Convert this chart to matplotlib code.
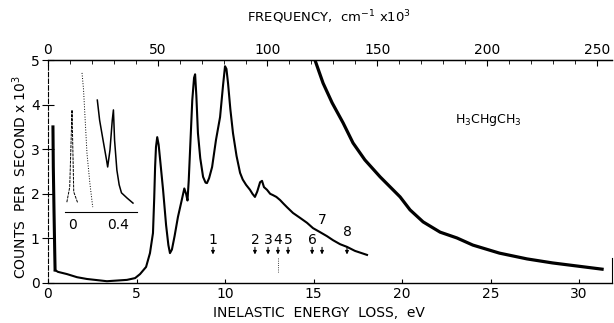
import numpy as np
import matplotlib
matplotlib.use("Agg")
import matplotlib.pyplot as plt

# main spectrum: energy loss (eV) vs counts per second (x10^3)
elastic_ev = [0.28, 0.30, 0.34, 0.38, 0.40]
elastic_counts = [3.50, 2.60, 1.60, 0.70, 0.29]

main_ev = [0.40, 0.56, 1.07, 1.64, 2.20, 3.33, 4.46, 4.92, 5.20, 5.54, 5.76, 5.93,
           6.00, 6.05, 6.10, 6.17, 6.25, 6.35, 6.50, 6.67, 6.80, 6.89, 7.00, 7.15,
           7.34, 7.55, 7.70, 7.80, 7.88, 7.95, 8.05, 8.15, 8.25, 8.31, 8.38, 8.47,
           8.60, 8.76, 8.90, 8.98, 9.10, 9.27, 9.49, 9.72, 9.89, 10.00, 10.08, 10.17,
           10.30, 10.45, 10.65, 10.85, 11.00, 11.19, 11.41, 11.55, 11.69, 11.82, 11.98,
           12.09, 12.20, 12.37, 12.55, 12.71, 12.90, 13.11, 13.30, 13.50, 13.84, 14.24,
           14.63, 14.97, 15.37, 15.76, 16.10, 16.50, 16.89, 17.34, 18.02]
main_counts = [0.29, 0.25, 0.20, 0.13, 0.09, 0.04, 0.07, 0.11, 0.20, 0.36, 0.67, 1.12,
               1.90, 2.60, 3.05, 3.27, 3.10, 2.70, 2.09, 1.30, 0.85, 0.67, 0.75, 1.05,
               1.48, 1.85, 2.12, 2.00, 1.85, 2.30, 3.20, 4.10, 4.60, 4.68, 4.20, 3.36,
               2.80, 2.38, 2.25, 2.24, 2.35, 2.60, 3.21, 3.72, 4.44, 4.86, 4.80, 4.48,
               3.90, 3.36, 2.85, 2.47, 2.32, 2.20, 2.09, 2.00, 1.93, 2.05, 2.26,
               2.29, 2.15, 2.09, 2.00, 1.97, 1.93, 1.86, 1.78, 1.70, 1.57, 1.46,
               1.35, 1.23, 1.14, 1.05, 0.96, 0.87, 0.81, 0.72, 0.63]

# high energy tail on expanded scale
tail_ev = [15.08, 15.30, 15.54, 16.05, 16.67, 17.23, 17.90, 18.76, 19.89, 20.45,
           21.19, 22.15, 23.10, 24.00, 25.50, 27.06, 28.50, 29.90, 31.30]
tail_counts = [5.00, 4.75, 4.48, 4.04, 3.59, 3.14, 2.76, 2.38, 1.93, 1.64,
               1.37, 1.14, 1.01, 0.85, 0.67, 0.54, 0.45, 0.38, 0.31]

# inset: vibrational region
inset_peak_ev = [-0.045, -0.02, 0.0, 0.015, 0.05]
inset_peak_counts = [0.22, 0.56, 2.29, 0.45, 0.20]
inset_dot_ev = [0.087, 0.10, 0.13, 0.155, 0.18]
inset_dot_counts = [3.12, 2.75, 1.32, 0.65, 0.11]
inset_ev = [0.22, 0.24, 0.27, 0.30, 0.31, 0.33, 0.35, 0.36, 0.37, 0.39, 0.41,
            0.43, 0.48, 0.53]
inset_counts = [2.51, 2.06, 1.61, 1.17, 1.01, 1.39, 2.06, 2.29, 1.61, 0.94, 0.61,
                0.43, 0.31, 0.20]

# assigned transitions
marker_labels = ["1", "2", "3", "4", "5", "6", "7", "8"]
marker_ev = [9.32, 11.69, 12.43, 12.99, 13.56, 14.92, 15.48, 16.89]

EV_TO_WN = 8.0655  # 10^3 cm^-1 per eV

W, H = 614, 323
fig = plt.figure(figsize=(W / 100, H / 100), dpi=100)
ax = fig.add_axes([48 / W, 1 - 283 / H, (612 - 48) / W, (283 - 60) / H])

ax.plot(elastic_ev, elastic_counts, color="black", lw=2.2)
ax.plot(main_ev, main_counts, color="black", lw=1.5)
ax.plot(tail_ev, tail_counts, color="black", lw=2.3)
ax.plot([12.99, 12.99], [0.56, 0.25], color="black", lw=0.6, ls=":")

for lab, x in zip(marker_labels, marker_ev):
    ty = 0.96
    if lab == "7":
        ty = 1.41
    elif lab == "8":
        ty = 1.14
    ax.text(x, ty, lab, ha="center", va="center", fontsize=10)
    ax.annotate("", xy=(x, 0.64), xytext=(x, 0.80),
                arrowprops=dict(arrowstyle="-|>", lw=0.8, color="black",
                                mutation_scale=5, shrinkA=0, shrinkB=0))

ax.text(24.9, 3.65, "H$_3$CHgCH$_3$", ha="center", va="center", fontsize=9)

ax.set_xlim(0, 31.86)
ax.set_ylim(0, 5)
ax.set_xticks([0, 5, 10, 15, 20, 25, 30])
ax.set_yticks([0, 1, 2, 3, 4, 5])
ax.tick_params(axis="x", direction="in", length=3, labelsize=10, pad=3)
ax.tick_params(axis="y", direction="inout", length=8, labelsize=10, pad=2)
ax.spines["left"].set_linestyle((0, (4, 2)))
ax.spines["left"].set_linewidth(0.8)
ax.spines["right"].set_bounds(0, 0.55)
for s in ["top", "bottom"]:
    ax.spines[s].set_linewidth(1.0)

top = ax.secondary_xaxis("top", functions=(lambda e: e * EV_TO_WN,
                                           lambda w: w / EV_TO_WN))
top.set_xticks([0, 50, 100, 150, 200, 250])
top.set_xticks(np.arange(0, 251, 10), minor=True)
top.tick_params(which="major", direction="in", length=4, labelsize=10, pad=2)
top.tick_params(which="minor", direction="in", length=3)

fig.text(329 / W, 1 - 17 / H, "FREQUENCY,  cm$^{-1}$ x10$^3$", ha="center",
         va="center", fontsize=9.5)
fig.text(319 / W, 1 - 313 / H, "INELASTIC  ENERGY  LOSS,  eV", ha="center",
         va="center", fontsize=10)
fig.text(20 / W, 1 - 177 / H, "COUNTS  PER  SECOND x 10$^3$", ha="center",
         va="center", rotation=90, fontsize=10)

# inset
ins = fig.add_axes([65 / W, 1 - 212 / H, 72 / W, 152 / H])
ins.patch.set_alpha(0)
ins.plot(inset_peak_ev, inset_peak_counts, color="black", lw=0.7, ls=(0, (3, 1)))
ins.plot(inset_dot_ev, inset_dot_counts, color="black", lw=0.7, ls=":")
ins.plot(inset_ev, inset_counts, color="black", lw=1.1)
ins.set_xlim(-0.061, 0.565)
ins.set_ylim(0, 3.41)
for s in ["top", "left", "right"]:
    ins.spines[s].set_visible(False)
ins.set_yticks([])
ins.set_xticks([0, 0.4])
ins.set_xticklabels(["0", "0.4"])
ins.tick_params(axis="x", length=0, labelsize=10, pad=4)

fig.savefig("out.png", dpi=100)
